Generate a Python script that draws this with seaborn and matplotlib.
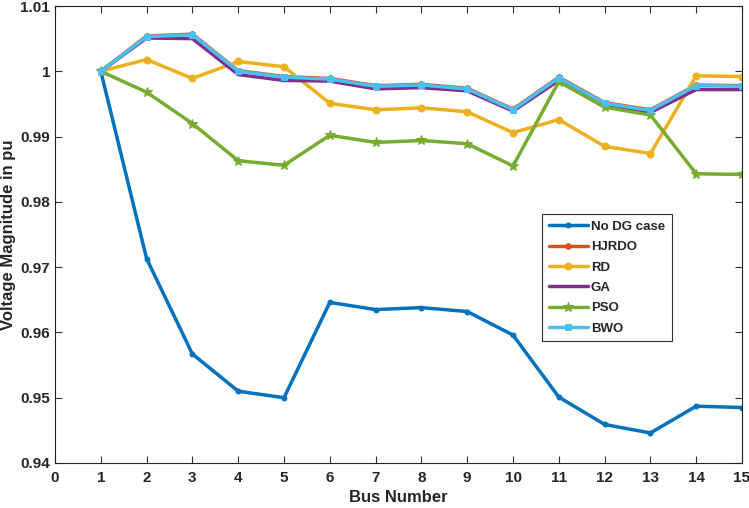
import numpy as np
import pandas as pd
import matplotlib
matplotlib.use("Agg")
import matplotlib.pyplot as plt
from matplotlib.ticker import FuncFormatter
import seaborn as sns

bus = list(range(1, 16))

no_dg = [1.0, 0.9713, 0.9567, 0.9510, 0.9500, 0.9646, 0.9635, 0.9638, 0.9632, 0.9596,
         0.9501, 0.9459, 0.9446, 0.9487, 0.9485]
hjrdo = [1.0, 1.0054, 1.0057, 1.0001, 0.9992, 0.9989, 0.9978, 0.9980, 0.9974, 0.9942,
         0.9991, 0.9952, 0.9941, 0.9979, 0.9978]
rd = [1.0, 1.0018, 0.9989, 1.0015, 1.0007, 0.9951, 0.9941, 0.9944, 0.9938, 0.9906,
      0.9926, 0.9885, 0.9874, 0.9993, 0.9992]
ga = [1.0, 1.0051, 1.0050, 0.9995, 0.9986, 0.9985, 0.9973, 0.9975, 0.9970, 0.9939,
      0.9986, 0.9948, 0.9937, 0.9972, 0.9972]
pso = [1.0, 0.9968, 0.9920, 0.9863, 0.9856, 0.9902, 0.9891, 0.9894, 0.9889, 0.9855,
       0.9984, 0.9945, 0.9933, 0.9843, 0.9842]
bwo = [1.0, 1.0053, 1.0056, 1.0000, 0.9991, 0.9988, 0.9977, 0.9979, 0.9973, 0.9941,
       0.9990, 0.9951, 0.9940, 0.9978, 0.9977]

series = {
    "No DG case": no_dg,
    "HJRDO": hjrdo,
    "RD": rd,
    "GA": ga,
    "PSO": pso,
    "BWO": bwo,
}

styles = {
    "No DG case": dict(color="#0072BD", marker="o", markersize=3.5),
    "HJRDO": dict(color="#D95319", marker="o", markersize=4),
    "RD": dict(color="#EDB120", marker="o", markersize=5),
    "GA": dict(color="#7E2F8E", marker=None, markersize=0),
    "PSO": dict(color="#77AC30", marker="*", markersize=7.5),
    "BWO": dict(color="#4DBEEE", marker="s", markersize=4),
}

sns.set_style("ticks")
plt.rcParams["font.family"] = ["Liberation Sans", "DejaVu Sans"]
plt.rcParams["font.weight"] = "bold"
plt.rcParams["axes.labelweight"] = "bold"
plt.rcParams["xtick.direction"] = "in"
plt.rcParams["ytick.direction"] = "in"

fig = plt.figure(figsize=(7.49, 5.08), dpi=100)
ax = fig.add_axes([55 / 749, 1 - 463 / 508, 687 / 749, 457 / 508])

for name, vals in series.items():
    st = styles[name]
    df = pd.DataFrame({"bus": bus, "v": vals})
    sns.lineplot(data=df, x="bus", y="v", ax=ax, label=name, color=st["color"],
                 marker=st["marker"], markersize=st["markersize"],
                 markeredgecolor=st["color"], linewidth=2.5)

ax.set_xlim(0, 15)
ax.set_ylim(0.94, 1.01)
ax.set_xticks(range(0, 16))
ax.set_yticks(np.arange(0.94, 1.0101, 0.01))
ax.yaxis.set_major_formatter(FuncFormatter(lambda v, p: f"{round(v, 2):g}"))
ax.tick_params(labelsize=11, length=5, width=0.8, color="#333333", top=True, right=True,
               labeltop=False, labelright=False)
ax.tick_params(axis="x", pad=6)
for lab in ax.get_xticklabels() + ax.get_yticklabels():
    lab.set_fontweight("bold")
for sp in ax.spines.values():
    sp.set_visible(True)
    sp.set_linewidth(0.8)
    sp.set_color("#222222")

ax.set_xlabel("Bus Number", fontsize=12, fontweight="bold", labelpad=3)
ax.set_ylabel("Voltage Magnitude in pu", fontsize=12, fontweight="bold", labelpad=3)

leg = ax.legend(loc="upper left", bbox_to_anchor=(0.709, 0.545), fancybox=False,
                edgecolor="#333333", framealpha=1, fontsize=9.5, handlelength=3.0,
                handletextpad=0.2, labelspacing=0.62, borderpad=0.5, borderaxespad=0)
leg.get_frame().set_linewidth(0.8)
for t in leg.get_texts():
    t.set_fontweight("bold")

fig.savefig("out.png", dpi=100)
